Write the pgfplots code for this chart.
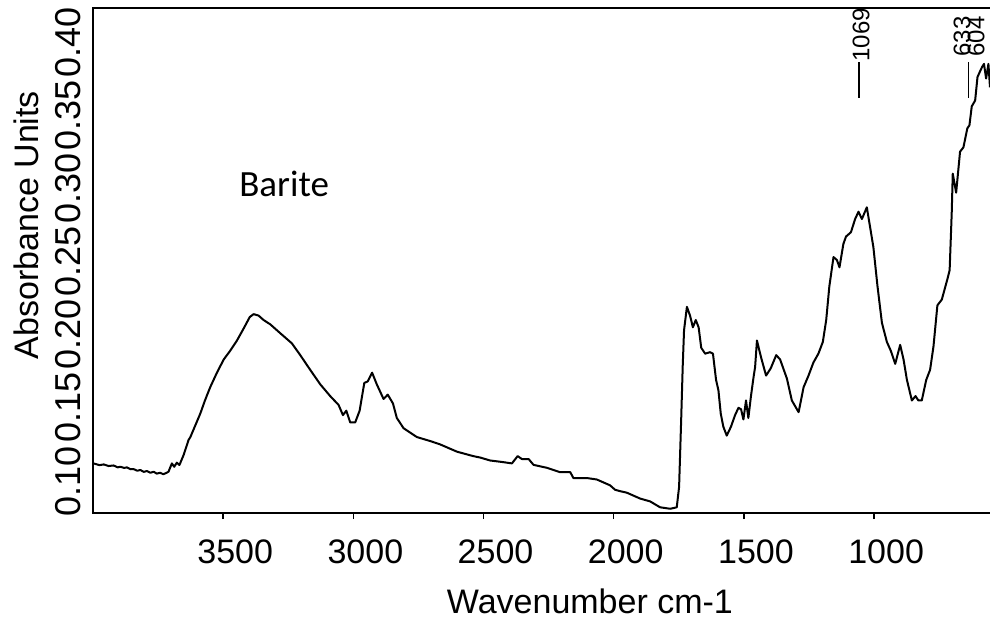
\documentclass[border=0pt]{standalone}
\usepackage{fontspec}
\setmainfont{Liberation Sans}
\newfontfamily\calibri{Carlito}
\usepackage{pgfplots}
\pgfplotsset{compat=1.18}

\pgfplotstableread{
w v
3998 0.1230
3975 0.1218
3959 0.1223
3940 0.1212
3921 0.1216
3905 0.1203
3895 0.1207
3880 0.1199
3870 0.1203
3855 0.1190
3844 0.1191
3830 0.1180
3818 0.1185
3805 0.1172
3793 0.1178
3780 0.1166
3767 0.1173
3755 0.1160
3742 0.1166
3730 0.1156
3722 0.1162
3710 0.1173
3697 0.1230
3688 0.1207
3678 0.1235
3668 0.1219
3652 0.1287
3633 0.1390
3626 0.141
3607 0.149
3588 0.157
3570 0.166
3550 0.175
3524 0.185
3498 0.194
3473 0.200
3447 0.207
3422 0.215
3398 0.223
3383 0.225
3364 0.224
3345 0.221
3319 0.218
3281 0.212
3236 0.205
3204 0.197
3166 0.187
3127 0.177
3089 0.169
3057 0.163
3040 0.156
3027 0.159
3012 0.151
2993 0.151
2976 0.159
2958 0.178
2945 0.179
2928 0.185
2910 0.177
2884 0.167
2868 0.170
2848 0.164
2833 0.154
2807 0.147
2756 0.141
2700 0.138
2667 0.136
2602 0.131
2540 0.128
2513 0.127
2475 0.125
2430 0.124
2391 0.123
2369 0.128
2353 0.126
2327 0.126
2308 0.122
2257 0.120
2206 0.117
2167 0.117
2155 0.113
2103 0.113
2065 0.112
2014 0.108
1995 0.105
1975 0.104
1950 0.103
1899 0.099
1860 0.097
1822 0.093
1783 0.092
1758 0.093
1749 0.107
1741 0.153
1735 0.190
1730 0.214
1719 0.230
1707 0.224
1696 0.216
1685 0.221
1674 0.216
1664 0.202
1649 0.198
1630 0.199
1619 0.198
1607 0.180
1598 0.173
1589 0.157
1579 0.148
1566 0.142
1550 0.148
1534 0.156
1521 0.161
1511 0.160
1502 0.153
1492 0.166
1483 0.154
1473 0.169
1463 0.182
1457 0.189
1450 0.207
1435 0.196
1415 0.183
1397 0.188
1376 0.197
1361 0.194
1335 0.181
1316 0.166
1303 0.162
1290 0.158
1271 0.175
1252 0.183
1233 0.192
1214 0.198
1197 0.206
1184 0.221
1172 0.244
1156 0.264
1143 0.262
1133 0.257
1118 0.273
1108 0.278
1089 0.281
1073 0.290
1060 0.295
1047 0.290
1028 0.298
1003 0.271
987 0.244
970 0.219
951 0.206
936 0.200
919 0.191
900 0.204
887 0.194
874 0.180
855 0.166
841 0.169
830 0.166
817 0.166
800 0.180
785 0.187
772 0.203
757 0.231
740 0.235
720 0.248
710 0.255
702 0.294
698 0.321
685 0.308
670 0.336
657 0.339
642 0.352
634 0.354
625 0.367
612 0.371
603 0.387
593 0.391
585 0.394
578 0.396
570 0.386
561 0.396
555 0.380
}\barite

\begin{document}
\begin{tikzpicture}
\begin{axis}[
    scale only axis,
    width=448.5pt, height=252.5pt,
    x dir=reverse,
    xmin=555, xmax=4000,
    ymin=0.0891, ymax=0.4342,
    axis line style={draw=none},
    clip=false,
    xtick={1000,1500,2000,2500,3000,3500},
    ytick={0.10,0.15,0.20,0.25,0.30,0.35,0.40},
    xtick pos=lower, ytick pos=left,
    tick align=outside,
    major tick length=3pt,
    tick style={black, line width=0.7pt},
    every major y tick/.append style={draw=none},
    /pgf/number format/assume math mode=true,
    /pgf/number format/1000 sep={},
    xticklabel style={font=\fontsize{17}{17}\selectfont, anchor=center, xshift=6pt, yshift=-16.5pt},
    yticklabel style={font=\fontsize{18}{18}\selectfont, anchor=center, xshift=-9.5pt, yshift=8pt, rotate=90,
        /pgf/number format/fixed, /pgf/number format/fixed zerofill, /pgf/number format/precision=2},
]
\addplot[black, line width=1pt, line join=round] table[x=w, y=v] {\barite};

\draw[black, line width=1pt] (rel axis cs:1,1) -- (rel axis cs:0,1) -- (rel axis cs:0,0) -- (rel axis cs:1,0);

\node[font=\fontsize{17}{17}\selectfont, rotate=90, anchor=center]
    at ([xshift=-33.5pt]axis description cs:0,0.570) {Absorbance Units};
\node[font=\fontsize{17}{17}\selectfont, anchor=center]
    at ([yshift=-44pt]axis description cs:0.554,0) {Wavenumber cm-1};
\node[font=\calibri\fontsize{18.5}{18.5}\selectfont, anchor=center] at (axis cs:3266,0.314) {Barite};

% peak markers
\draw[black, line width=0.6pt] (axis cs:1058,0.3727) -- (axis cs:1058,0.3973);
\draw[black, line width=0.6pt] (axis cs:639,0.3727) -- (axis cs:639,0.3973);
\node[anchor=west, rotate=90, inner sep=0pt, font=\fontsize{12}{12}\selectfont] at (axis cs:1050,0.3973) {1069};
\node[anchor=west, rotate=90, inner sep=0pt, font=\fontsize{12}{12}\selectfont] at (axis cs:662,0.4008) {633};
\node[anchor=west, rotate=90, inner sep=0pt, font=\fontsize{12}{12}\selectfont] at (axis cs:608,0.4008) {604};

\coordinate (sw) at (rel axis cs:0,0);
\coordinate (ne) at (rel axis cs:1,1);
\end{axis}
\pgfresetboundingbox
\path[use as bounding box] ([xshift=-46.5pt,yshift=-55pt]sw) rectangle ([yshift=4pt]ne);
\end{tikzpicture}
\end{document}
